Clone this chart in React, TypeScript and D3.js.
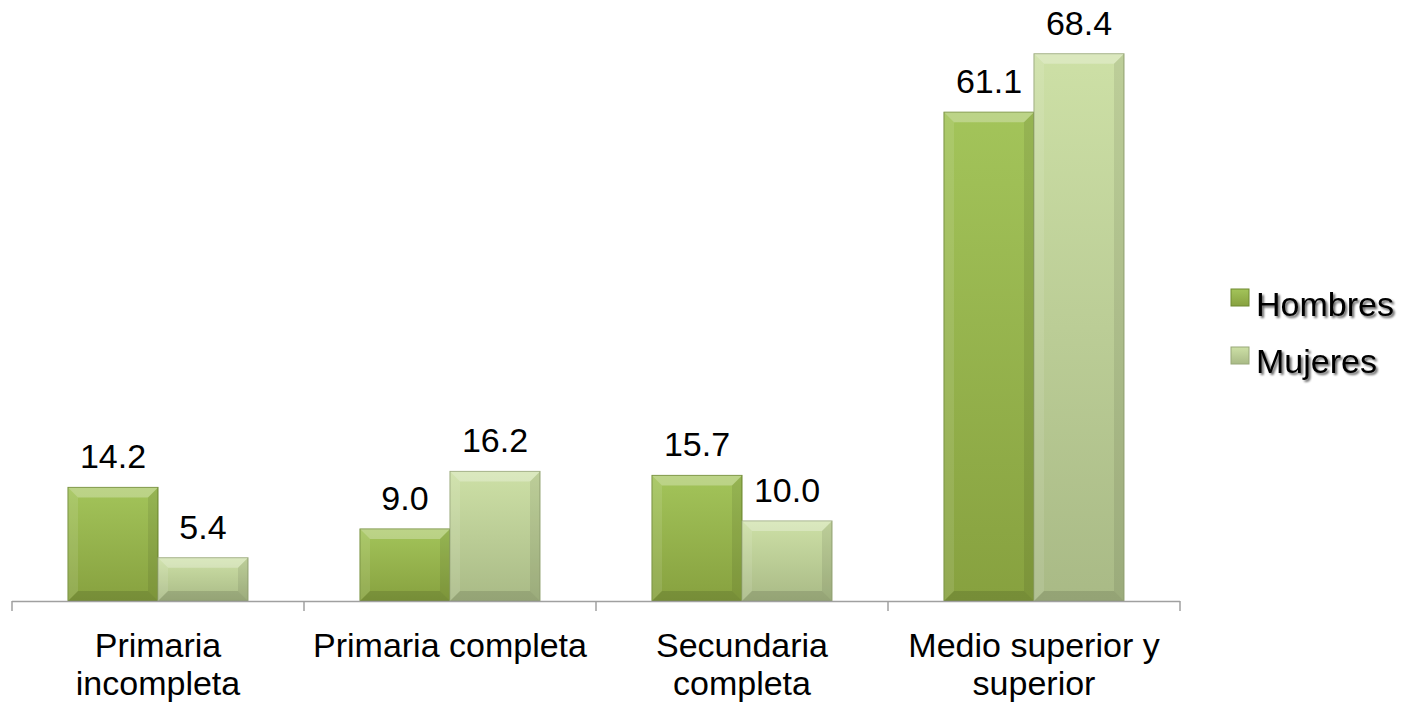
import React from "react";
import * as d3 from "d3";

const categories = [["Primaria", "incompleta"], ["Primaria completa"], ["Secundaria", "completa"], ["Medio superior y", "superior"]];
const seriesNames = ["Hombres", "Mujeres"];
const hombres = [14.2, 9.0, 15.7, 61.1];
const mujeres = [5.4, 16.2, 10.0, 68.4];

const W = 1404, H = 707;
const FONT = "'Liberation Sans', Arial, sans-serif";

export default function App() {
  const x0 = d3.scaleBand<number>().domain(d3.range(categories.length)).range([12, 1180]).paddingInner(0).paddingOuter(0);
  const inner = 180 / 292;
  const y = d3.scaleLinear().domain([0, 70]).range([601, 41]);
  const series = [hombres, mujeres];
  const bevel = 10;

  const bar = (i: number, s: number) => {
    const bw = x0.bandwidth() * inner / 2;
    const x = x0(i)! + (x0.bandwidth() - 2 * bw) / 2 + s * bw;
    const top = y(series[s][i]);
    const bot = y(0);
    const r = x + bw;
    const b = Math.min(bevel, (bot - top) / 2);
    const grad = s === 0 ? "url(#gH)" : "url(#gM)";
    const edge = s === 0 ? "#6f8a30" : "#98a878";
    return (
      <g key={`${i}-${s}`}>
        <rect x={x} y={top} width={bw} height={bot - top} fill={grad} stroke={edge} strokeWidth={1} />
        <polygon points={`${x},${top} ${r},${top} ${r - b},${top + b} ${x + b},${top + b}`} fill="#ffffff" opacity={0.28} />
        <polygon points={`${x},${top} ${x + b},${top + b} ${x + b},${bot - b} ${x},${bot}`} fill="#ffffff" opacity={0.1} />
        <polygon points={`${r},${top} ${r - b},${top + b} ${r - b},${bot - b} ${r},${bot}`} fill="#000000" opacity={0.08} />
        <polygon points={`${x},${bot} ${x + b},${bot - b} ${r - b},${bot - b} ${r},${bot}`} fill="#000000" opacity={0.12} />
        <text x={x + bw / 2} y={top - 19} textAnchor="middle" fontSize={34} fontFamily={FONT} fill="#000">
          {series[s][i].toFixed(1)}
        </text>
      </g>
    );
  };

  return (
    <svg width={W} height={H} style={{ position: "absolute", left: 0, top: 0 }}>
      <defs>
        <linearGradient id="gH" x1="0" y1="0" x2="0" y2="1">
          <stop offset="0" stopColor="#a3c45a" />
          <stop offset="1" stopColor="#87a13f" />
        </linearGradient>
        <linearGradient id="gM" x1="0" y1="0" x2="0" y2="1">
          <stop offset="0" stopColor="#cde0a6" />
          <stop offset="1" stopColor="#a9ba86" />
        </linearGradient>
        <filter id="sh" x="-10%" y="-10%" width="130%" height="140%">
          <feGaussianBlur in="SourceAlpha" stdDeviation="1.3" />
          <feOffset dx="2" dy="2" result="o" />
          <feComponentTransfer><feFuncA type="linear" slope="0.6" /></feComponentTransfer>
          <feMerge><feMergeNode /><feMergeNode in="SourceGraphic" /></feMerge>
        </filter>
      </defs>
      {categories.map((_, i) => [0, 1].map((s) => bar(i, s)))}
      <line x1={12} x2={1180} y1={601.5} y2={601.5} stroke="#a0a0a0" strokeWidth={1.5} />
      {d3.range(categories.length + 1).map((k) => {
        const xx = k < categories.length ? x0(k)! : 1180;
        return <line key={k} x1={xx} x2={xx} y1={601} y2={611} stroke="#a0a0a0" strokeWidth={1.5} />;
      })}
      {categories.map((lines, i) => (
        <text key={i} textAnchor="middle" fontSize={34} fontFamily={FONT} fill="#000">
          {lines.map((l, j) => (
            <tspan key={j} x={x0(i)! + x0.bandwidth() / 2} y={657 + j * 38}>{l}</tspan>
          ))}
        </text>
      ))}
      {seriesNames.map((n, s) => (
        <g key={n}>
          <rect x={1231} y={289 + s * 58} width={18} height={17} fill={s === 0 ? "url(#gH)" : "url(#gM)"} stroke={s === 0 ? "#6f8a30" : "#98a878"} />
          <text x={1256} y={316 + s * 57} fontSize={34} fontFamily={FONT} fill="#000" filter="url(#sh)">{n}</text>
        </g>
      ))}
    </svg>
  );
}
